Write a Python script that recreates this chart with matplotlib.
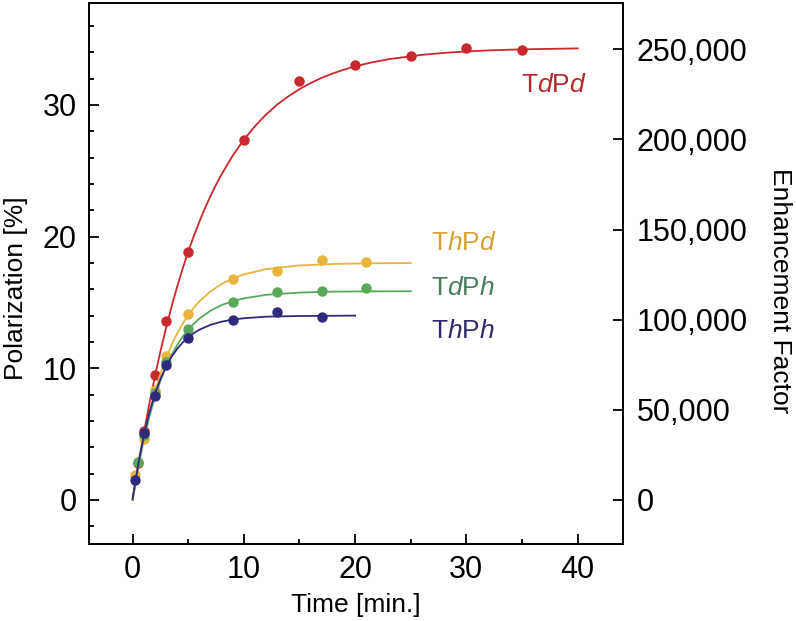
import numpy as np
import matplotlib
matplotlib.use('Agg')
import matplotlib.pyplot as plt
from matplotlib.ticker import MultipleLocator, FuncFormatter

plt.rcParams['font.family'] = ['Liberation Sans', 'DejaVu Sans']
plt.rcParams['mathtext.fontset'] = 'custom'
plt.rcParams['mathtext.it'] = 'Liberation Sans:italic'
plt.rcParams['mathtext.rm'] = 'Liberation Sans'

# measured points (time in min, polarization in %)
td_pd_t = [0.5, 1, 2, 3, 5, 10, 15, 20, 25, 30, 35]
td_pd_p = [2.8, 5.24, 9.47, 13.6, 18.85, 27.3, 31.8, 33.0, 33.7, 34.3, 34.15]
th_pd_t = [0.2, 1, 2, 3, 5, 9, 13, 17, 21]
th_pd_p = [1.9, 4.6, 8.35, 10.9, 14.1, 16.8, 17.4, 18.2, 18.1]
td_ph_t = [0.5, 1, 2, 3, 5, 9, 13, 17, 21]
td_ph_p = [2.9, 4.9, 8.1, 10.5, 13.0, 15.06, 15.77, 15.87, 16.07]
th_ph_t = [0.2, 1, 2, 3, 5, 9, 13, 17]
th_ph_p = [1.52, 5.07, 7.92, 10.25, 12.3, 13.67, 14.27, 13.9]

# fitted curves
td_pd_fit_t = [0, 0.5, 1, 1.5, 2, 2.5, 3, 3.5, 4, 4.5, 5, 5.5, 6, 6.5, 7, 7.5, 8, 9, 10, 11, 12,
               13, 14, 15, 16, 17, 18, 19, 20, 21.5, 23, 26, 28, 30, 32, 35, 40]
td_pd_fit_p = [0, 2.63, 5.06, 7.30, 9.37, 11.28, 13.05, 14.67, 16.18, 17.57, 18.86, 20.04, 21.13,
               22.15, 23.08, 23.94, 24.73, 26.15, 27.36, 28.39, 29.27, 30.03, 30.65, 31.2, 31.66,
               32.06, 32.39, 32.68, 32.93, 33.23, 33.47, 33.80, 33.95, 34.06, 34.14, 34.22, 34.29]
th_pd_fit_t = [0, 0.5, 1, 1.5, 2, 2.5, 3, 3.5, 4, 4.5, 5, 5.5, 6, 7, 8, 9, 10, 12, 15, 18, 21, 25]
th_pd_fit_p = [0, 2.53, 4.70, 6.57, 8.18, 9.56, 10.73, 11.77, 12.64, 13.39, 14.04, 14.6, 15.08,
               15.84, 16.40, 16.82, 17.13, 17.53, 17.81, 17.92, 17.97, 17.99]
td_ph_fit_t = [0, 0.5, 1, 1.5, 2, 2.5, 3, 3.5, 4, 4.5, 5, 5.5, 6, 7, 8, 9, 10, 12, 15, 18, 21, 25]
td_ph_fit_p = [0, 2.47, 4.56, 6.31, 7.81, 9.05, 10.11, 11.01, 11.76, 12.40, 12.94, 13.39, 13.77,
               14.37, 14.80, 15.10, 15.31, 15.58, 15.75, 15.82, 15.84, 15.85]
th_ph_fit_t = [0, 0.5, 1, 1.5, 2, 2.5, 3, 3.5, 4, 4.5, 5, 5.5, 6, 7, 8, 9, 10, 12, 15, 20]
th_ph_fit_p = [0.1, 2.69, 4.87, 6.62, 8.05, 9.18, 10.12, 10.87, 11.47, 11.96, 12.34, 12.67, 12.93,
               13.30, 13.54, 13.70, 13.80, 13.92, 13.97, 14.0]

series = [
    ('T$\\mathit{d}$P$\\mathit{d}$', td_pd_t, td_pd_p, td_pd_fit_t, td_pd_fit_p, '#c9282d', '#b22a2c', (34.9, 31.5)),
    ('T$\\mathit{h}$P$\\mathit{d}$', th_pd_t, th_pd_p, th_pd_fit_t, th_pd_fit_p, '#e9b43c', '#d6a035', (26.8, 19.5)),
    ('T$\\mathit{d}$P$\\mathit{h}$', td_ph_t, td_ph_p, td_ph_fit_t, td_ph_fit_p, '#5aa85c', '#4a7d5e', (26.8, 16.1)),
    ('T$\\mathit{h}$P$\\mathit{h}$', th_ph_t, th_ph_p, th_ph_fit_t, th_ph_fit_p, '#2f2a7c', '#2f2a6e', (26.8, 12.86)),
]

fig = plt.figure(figsize=(7.96, 6.21), dpi=100)
ax = fig.add_axes([0.1118, 0.1232, 0.6712, 0.8720])

for name, t, p, ft, fp, col, tcol, pos in series:
    ax.plot(ft, fp, color=col, lw=1.3)
    ax.plot(t, p, 'o', color=col, ms=7.5, mew=0)
    ax.text(pos[0], pos[1], name, color=tcol, fontsize=19, ha='left', va='center')

ax.set_xlim(-3.92, 44.1)
ax.set_ylim(-3.38, 37.74)
ax.xaxis.set_major_locator(MultipleLocator(10))
ax.xaxis.set_minor_locator(MultipleLocator(5))
ax.yaxis.set_major_locator(MultipleLocator(10))
ax.yaxis.set_minor_locator(MultipleLocator(2))
ax.tick_params(which='both', direction='in', width=1.3, labelsize=22, top=False, right=False)
ax.tick_params(which='major', length=7.2)
ax.tick_params(which='minor', length=3.6)
ax.tick_params(axis='x', pad=7.5)
ax.tick_params(axis='y', pad=9)
for s in ax.spines.values():
    s.set_linewidth(1.3)

ax.set_xlabel('Time [min.]', fontsize=19, va='center')
ax.xaxis.set_label_coords(0.499, -0.112)
ax.set_ylabel('Polarization [%]', fontsize=19, va='center')
ax.yaxis.set_label_coords(-0.137, 0.474)

# enhancement factor axis, 250,000 sits at 34.22 %
ef_scale = 250000 / 34.22
ax2 = ax.twinx()
lo, hi = ax.get_ylim()
ax2.set_ylim(lo * ef_scale, hi * ef_scale)
ax2.yaxis.set_major_locator(MultipleLocator(50000))
ax2.yaxis.set_major_formatter(FuncFormatter(lambda v, pos: f'{int(round(v)):,}'))
ax2.tick_params(direction='in', width=1.3, length=7.2, labelsize=22, pad=9.5)
ax2.set_ylabel('Enhancement Factor', fontsize=19, rotation=270, va='center')
ax2.yaxis.set_label_coords(1.293, 0.468)
for s in ax2.spines.values():
    s.set_linewidth(1.3)

fig.savefig('out.png', dpi=100)
